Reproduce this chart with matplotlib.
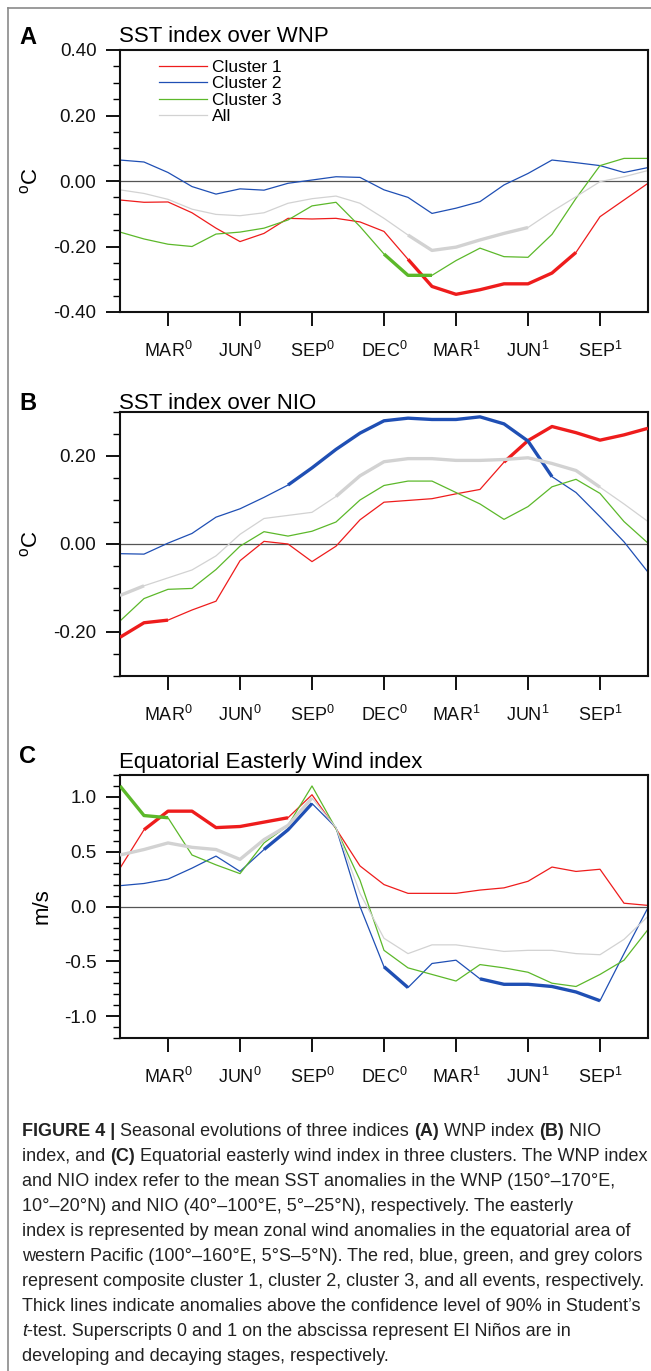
import numpy as np
import matplotlib
matplotlib.use("Agg")
import matplotlib.pyplot as plt
from matplotlib.lines import Line2D
from matplotlib.ticker import MultipleLocator

plt.rcParams['font.family'] = ['Liberation Sans', 'DejaVu Sans']
plt.rcParams['mathtext.default'] = 'regular'

# months from JAN (developing year) to NOV (decaying year)
months = np.arange(23)
tick_pos = [2, 5, 8, 11, 14, 17, 20]
tick_labels = ['MAR$^0$', 'JUN$^0$', 'SEP$^0$', 'DEC$^0$', 'MAR$^1$', 'JUN$^1$', 'SEP$^1$']
series_names = ['Cluster 1', 'Cluster 2', 'Cluster 3', 'All']
colors = ['#ee1c1c', '#1f4fb4', '#5cb82a', '#d2d2d2']

# (A) SST index over WNP
wnp_c1 = [-0.058, -0.065, -0.064, -0.097, -0.144, -0.185, -0.160, -0.114, -0.116, -0.114, -0.125, -0.154,
          -0.239, -0.322, -0.346, -0.332, -0.314, -0.314, -0.281, -0.218, -0.109, -0.058, -0.007]
wnp_c2 = [0.064, 0.058, 0.026, -0.017, -0.040, -0.024, -0.028, -0.007, 0.003, 0.013, 0.011, -0.027,
          -0.050, -0.099, -0.083, -0.063, -0.012, 0.023, 0.064, 0.056, 0.047, 0.026, 0.041]
wnp_c3 = [-0.156, -0.177, -0.193, -0.200, -0.162, -0.156, -0.144, -0.119, -0.076, -0.065, -0.139, -0.223,
          -0.288, -0.288, -0.243, -0.205, -0.231, -0.233, -0.163, -0.053, 0.047, 0.069, 0.069]
wnp_all = [-0.027, -0.038, -0.056, -0.086, -0.102, -0.106, -0.097, -0.068, -0.054, -0.046, -0.068, -0.114,
           -0.165, -0.212, -0.202, -0.180, -0.160, -0.142, -0.093, -0.048, -0.002, 0.013, 0.032]
# 1 = significant at 90% (drawn thick)
wnp_sig_c1 = [0]*12 + [1]*8 + [0]*3
wnp_sig_c2 = [0]*23
wnp_sig_c3 = [0]*11 + [1]*3 + [0]*9
wnp_sig_all = [0]*12 + [1]*6 + [0]*5

# (B) SST index over NIO
nio_c1 = [-0.212, -0.179, -0.173, -0.150, -0.130, -0.038, 0.006, 0.000, -0.040, -0.005, 0.055, 0.095,
          0.099, 0.103, 0.114, 0.124, 0.186, 0.235, 0.267, 0.253, 0.236, 0.248, 0.263]
nio_c2 = [-0.022, -0.023, 0.002, 0.024, 0.061, 0.080, 0.106, 0.134, 0.173, 0.215, 0.252, 0.280,
          0.286, 0.283, 0.283, 0.289, 0.273, 0.234, 0.153, 0.117, 0.062, 0.005, -0.064]
nio_c3 = [-0.175, -0.124, -0.103, -0.101, -0.058, -0.005, 0.028, 0.018, 0.029, 0.050, 0.100, 0.133,
          0.143, 0.143, 0.117, 0.091, 0.056, 0.085, 0.130, 0.147, 0.115, 0.051, 0.002]
nio_all = [-0.117, -0.095, -0.077, -0.059, -0.027, 0.022, 0.058, 0.065, 0.072, 0.108, 0.155, 0.187,
           0.194, 0.194, 0.190, 0.190, 0.192, 0.196, 0.183, 0.167, 0.129, 0.091, 0.051]
nio_sig_c1 = [1]*3 + [0]*13 + [1]*7
nio_sig_c2 = [0]*7 + [1]*12 + [0]*4
nio_sig_c3 = [0]*23
nio_sig_all = [1]*2 + [0]*7 + [1]*12 + [0]*2

# (C) Equatorial easterly wind index
wind_c1 = [0.35, 0.70, 0.87, 0.87, 0.72, 0.73, 0.77, 0.81, 1.02, 0.71, 0.37, 0.20,
           0.12, 0.12, 0.12, 0.15, 0.17, 0.23, 0.36, 0.32, 0.34, 0.03, 0.01]
wind_c2 = [0.19, 0.21, 0.25, 0.35, 0.46, 0.32, 0.52, 0.70, 0.94, 0.72, 0.00, -0.55,
           -0.74, -0.52, -0.49, -0.66, -0.71, -0.71, -0.73, -0.78, -0.86, -0.43, -0.01]
wind_c3 = [1.10, 0.83, 0.81, 0.47, 0.38, 0.30, 0.58, 0.74, 1.10, 0.71, 0.24, -0.40,
           -0.56, -0.62, -0.68, -0.53, -0.56, -0.60, -0.70, -0.73, -0.62, -0.49, -0.21]
wind_all = [0.47, 0.52, 0.58, 0.54, 0.52, 0.43, 0.61, 0.74, 0.99, 0.72, 0.12, -0.29,
            -0.43, -0.35, -0.35, -0.38, -0.41, -0.40, -0.40, -0.43, -0.44, -0.30, -0.09]
wind_sig_c1 = [0] + [1]*7 + [0]*15
wind_sig_c2 = [0]*6 + [1]*3 + [0]*2 + [1]*2 + [0]*2 + [1]*6 + [0]*2
wind_sig_c3 = [1]*3 + [0]*20
wind_sig_all = [1]*9 + [0]*14

W, H = 651, 1371
fig = plt.figure(figsize=(W / 100, H / 100), dpi=100)


def px_axes(left, right, top, bottom):
    return fig.add_axes([left / W, 1 - bottom / H, (right - left) / W, (bottom - top) / H])


def draw_panel(ax, data, sigs, ylim, major, minor, fmt):
    ax.axhline(0, color='#555555', lw=0.9, zorder=1)
    for vals, sig, c in zip(data, sigs, colors):
        vals = np.array(vals)
        ax.plot(months, vals, color=c, lw=0.9, zorder=2)
        thick = np.where(np.array(sig) == 1, vals, np.nan)
        ax.plot(months, thick, color=c, lw=2.4, zorder=3, solid_capstyle='butt')
    ax.set_xlim(0, 22)
    ax.set_ylim(*ylim)
    ax.set_xticks(tick_pos)
    ax.set_xticklabels(tick_labels)
    ax.yaxis.set_major_locator(MultipleLocator(major))
    ax.yaxis.set_minor_locator(MultipleLocator(minor))
    ax.yaxis.set_major_formatter(plt.FormatStrFormatter(fmt))
    ax.tick_params(axis='both', which='major', direction='out', length=10, width=1.4,
                   labelsize=13.5, colors='#111111')
    ax.tick_params(axis='x', pad=11, labelsize=13)
    ax.tick_params(axis='y', pad=7)
    ax.tick_params(axis='y', which='minor', direction='out', length=5, width=1.0)
    for s in ax.spines.values():
        s.set_linewidth(1.5)
        s.set_color('#111111')


axA = px_axes(120, 648, 50, 312)
draw_panel(axA, [wnp_c1, wnp_c2, wnp_c3, wnp_all],
           [wnp_sig_c1, wnp_sig_c2, wnp_sig_c3, wnp_sig_all], (-0.4, 0.4), 0.2, 0.05, '%.2f')
axA.set_yticks([-0.4, -0.2, 0.0, 0.2, 0.4])
handles = [Line2D([0], [0], color=c, lw=0.9) for c in colors]
axA.legend(handles, series_names, loc='upper left', bbox_to_anchor=(0.06, 0.99), frameon=False,
           fontsize=12.5, handlelength=2.8, handletextpad=0.3, labelspacing=0.08, borderaxespad=0)

axB = px_axes(120, 648, 412, 676)
draw_panel(axB, [nio_c1, nio_c2, nio_c3, nio_all],
           [nio_sig_c1, nio_sig_c2, nio_sig_c3, nio_sig_all], (-0.3, 0.3), 0.2, 0.05, '%.2f')
axB.set_yticks([-0.2, 0.0, 0.2])

axC = px_axes(120, 648, 775, 1038)
draw_panel(axC, [wind_c1, wind_c2, wind_c3, wind_all],
           [wind_sig_c1, wind_sig_c2, wind_sig_c3, wind_sig_all], (-1.2, 1.2), 0.5, 0.1, '%.1f')
axC.set_yticks([-1.0, -0.5, 0.0, 0.5, 1.0])

# panel letters, titles, y labels
panels = [(axA, 'A', 'SST index over WNP', '$^o$C', 37, 37),
          (axB, 'B', 'SST index over NIO', '$^o$C', 403, 403),
          (axC, 'C', 'Equatorial Easterly Wind index', 'm/s', 757, 762)]
for ax, letter, title, ylab, ly, ty in panels:
    fig.text(19 / W, 1 - ly / H, letter, fontsize=17, fontweight='bold', va='center', ha='left')
    fig.text(119 / W, 1 - ty / H, title, fontsize=16, va='center', ha='left')
    ax.set_ylabel(ylab, fontsize=16, labelpad=8)

# outer frame of the figure page
fig.add_artist(Line2D([8 / W, 8 / W], [0, 1 - 8 / H], transform=fig.transFigure, color='#8a8a8a', lw=1.2))
fig.add_artist(Line2D([8 / W, 1], [1 - 8 / H, 1 - 8 / H], transform=fig.transFigure, color='#8a8a8a', lw=1.2))

# caption with mixed styles
cap_font = ['Liberation Sans Narrow', 'Liberation Sans', 'DejaVu Sans']
cap_size = 13
caption = [
    [("FIGURE 4 |", 'b'), (" Seasonal evolutions of three indices ", 'r'), ("(A)", 'b'),
     (" WNP index ", 'r'), ("(B)", 'b'), (" NIO", 'r')],
    [("index, and ", 'r'), ("(C)", 'b'), (" Equatorial easterly wind index in three clusters. The WNP index", 'r')],
    [("and NIO index refer to the mean SST anomalies in the WNP (150°–170°E,", 'r')],
    [("10°–20°N) and NIO (40°–100°E, 5°–25°N), respectively. The easterly", 'r')],
    [("index is represented by mean zonal wind anomalies in the equatorial area of", 'r')],
    [("western Pacific (100°–160°E, 5°S–5°N). The red, blue, green, and grey colors", 'r')],
    [("represent composite cluster 1, cluster 2, cluster 3, and all events, respectively.", 'r')],
    [("Thick lines indicate anomalies above the confidence level of 90% in Student’s", 'r')],
    [("t", 'i'), ("-test. Superscripts 0 and 1 on the abscissa represent El Niños are in", 'r')],
    [("developing and decaying stages, respectively.", 'r')],
]
renderer = fig.canvas.get_renderer()


def style_kw(st):
    kw = dict(family=cap_font, fontsize=cap_size, color='#222222')
    if st == 'b':
        kw['fontweight'] = 'bold'
    if st == 'i':
        kw['fontstyle'] = 'italic'
    return kw


def advance(s, st):
    # width including spaces: measure with guard characters
    t1 = fig.text(0, 0, '|' + s + '|', **style_kw(st))
    t2 = fig.text(0, 0, '||', **style_kw(st))
    w = t1.get_window_extent(renderer).width - t2.get_window_extent(renderer).width
    t1.remove()
    t2.remove()
    return w


for i, parts in enumerate(caption):
    x = 22.0
    y = 1131 + 25.1 * i
    for s, st in parts:
        fig.text(x / W, 1 - y / H, s, va='center', ha='left', **style_kw(st))
        x += advance(s, st)

fig.savefig('out.png', dpi=100)
